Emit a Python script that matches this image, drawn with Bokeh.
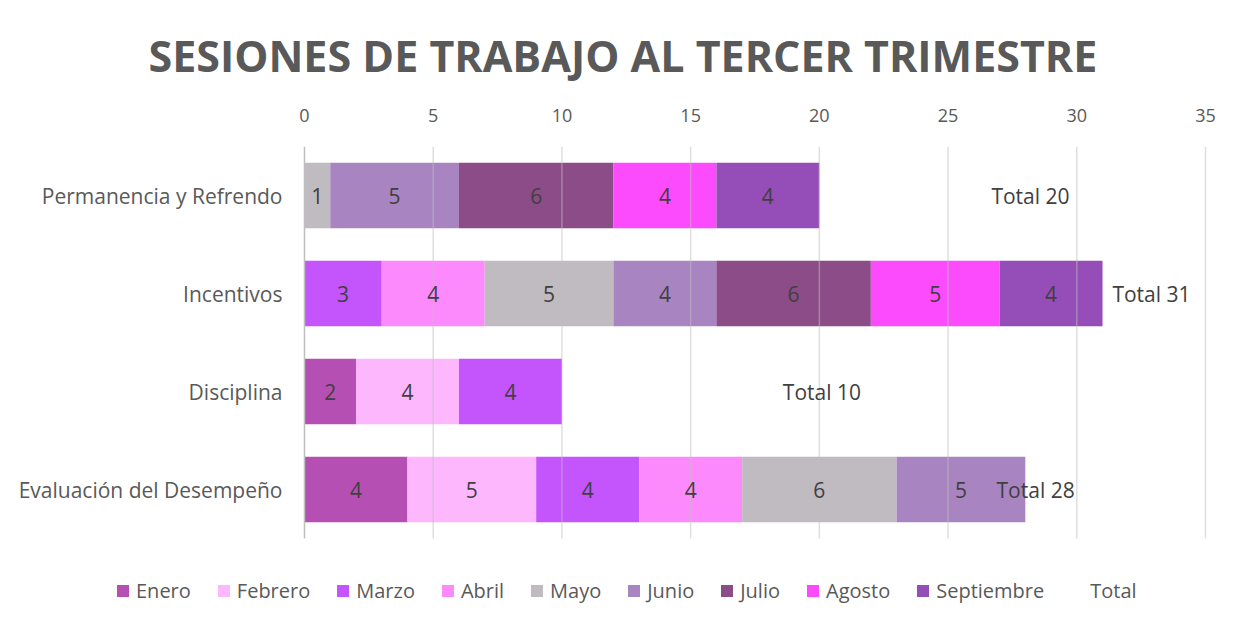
from bokeh.plotting import figure
from bokeh.models import ColumnDataSource, Range1d, Legend, LegendItem, FixedTicker
from bokeh.core.properties import value
from bokeh.embed import file_html
from bokeh.resources import INLINE

categories = ["Permanencia y Refrendo", "Incentivos", "Disciplina", "Evaluación del Desempeño"]
months = ["Enero", "Febrero", "Marzo", "Abril", "Mayo", "Junio", "Julio", "Agosto", "Septiembre"]
enero = [0, 0, 2, 4]
febrero = [0, 0, 4, 5]
marzo = [0, 3, 4, 4]
abril = [0, 4, 0, 4]
mayo = [1, 5, 0, 6]
junio = [5, 4, 0, 5]
julio = [6, 6, 0, 0]
agosto = [4, 5, 0, 0]
septiembre = [4, 4, 0, 0]
totals = [20, 31, 10, 28]
total_label_x = [28.2, 32.9, 20.1, 28.4]
x_ticks = [0, 5, 10, 15, 20, 25, 30, 35]

series = [enero, febrero, marzo, abril, mayo, junio, julio, agosto, septiembre]
colors = ["#B64FB4", "#FDB7FD", "#C455FD", "#FC8AFC", "#C0BBC0",
          "#A884C1", "#8B4C88", "#FC4BFC", "#954EB7"]

FONT = "Open Sans"
TXT = "#595959"

# layout constants (pixels)
W, H = 1239, 622
TOP = 146            # top of plotting area
X0_PX = 304          # pixel of value 0
XMAX = 35
X35_PX = 1205        # pixel of value 35
SLOT = 98            # pixel height of one category row
PX = (X35_PX - X0_PX) / XMAX

n = len(categories)
y_pos = [-(i + 0.5) for i in range(n)]

p = figure(width=W, height=H, output_backend="svg", toolbar_location=None,
           x_range=Range1d(-X0_PX / PX, (W - X0_PX) / PX),
           y_range=Range1d(-(H - TOP) / SLOT, 0),
           x_axis_location="above", y_axis_location=None,
           min_border_left=0, min_border_right=0, min_border_top=TOP, min_border_bottom=0)
p.outline_line_color = None
p.xgrid.grid_line_color = None
p.ygrid.grid_line_color = None

p.title.text = "SESIONES DE TRABAJO AL TERCER TRIMESTRE"
p.title.text_font = FONT
p.title.text_font_size = "43px"
p.title.text_font_style = "bold"
p.title.text_color = TXT
p.title.align = "left"
p.title.offset = 148
p.title.standoff = 41

items = []
lab_x, lab_y, lab_t = [], [], []
left = [0] * n
for name, vals, col in zip(months, series, colors):
    right = [l + v for l, v in zip(left, vals)]
    src = ColumnDataSource(dict(y=y_pos, left=left, right=right))
    r = p.hbar(y="y", left="left", right="right", height=0.67, source=src,
               fill_color=col, line_color=None)
    items.append(LegendItem(label=name, renderers=[r]))
    for yy, l, v in zip(y_pos, left, vals):
        if v:
            lab_x.append(l + v / 2)
            lab_y.append(yy)
            lab_t.append(str(v))
    left = right

tsrc = ColumnDataSource(dict(y=y_pos, left=totals, right=[min(2 * t, XMAX) for t in totals]))
rt = p.hbar(y="y", left="left", right="right", height=0.67, source=tsrc,
            fill_alpha=0, line_alpha=0)
items.append(LegendItem(label="Total", renderers=[rt]))

# vertical gridlines (drawn over bars) and category axis line
grid_x = x_ticks[1:]
p.segment(x0=grid_x, x1=grid_x, y0=[0] * len(grid_x), y1=[-n] * len(grid_x),
          line_color="#BFBFBF", line_alpha=0.5, line_width=1.5)
p.segment(x0=[0], x1=[0], y0=[0], y1=[-n], line_color="#BFBFBF", line_width=1.5)

# category labels
p.text(x=[-22 / PX] * n, y=y_pos, text=categories, text_font=value(FONT),
       text_font_size="21px", text_color=TXT, text_align="right", text_baseline="middle")

lsrc = ColumnDataSource(dict(x=lab_x, y=lab_y, t=lab_t))
p.text(x="x", y="y", text="t", source=lsrc, text_font=value(FONT), text_font_size="21px",
       text_color="#404040", text_align="center", text_baseline="middle")

tlsrc = ColumnDataSource(dict(x=total_label_x, y=y_pos, t=["Total %d" % t for t in totals]))
p.text(x="x", y="y", text="t", source=tlsrc, text_font=value(FONT), text_font_size="21px",
       text_color="#404040", text_align="center", text_baseline="middle")

p.xaxis.ticker = FixedTicker(ticks=x_ticks)
p.xaxis.axis_line_color = None
p.xaxis.major_tick_line_color = None
p.xaxis.minor_tick_line_color = None
p.xaxis.major_label_standoff = 19
p.xaxis.major_label_text_font = FONT
p.xaxis.major_label_text_font_size = "18px"
p.xaxis.major_label_text_color = TXT

legend = Legend(items=items, orientation="horizontal", location=(115, 18),
                padding=0, margin=0, spacing=25, label_standoff=6,
                glyph_width=15, glyph_height=15, label_height=20,
                border_line_color=None, background_fill_alpha=0,
                label_text_font=FONT, label_text_font_size="20px", label_text_color=TXT)
p.add_layout(legend)

open("out.html", "w").write(file_html(p, INLINE))
